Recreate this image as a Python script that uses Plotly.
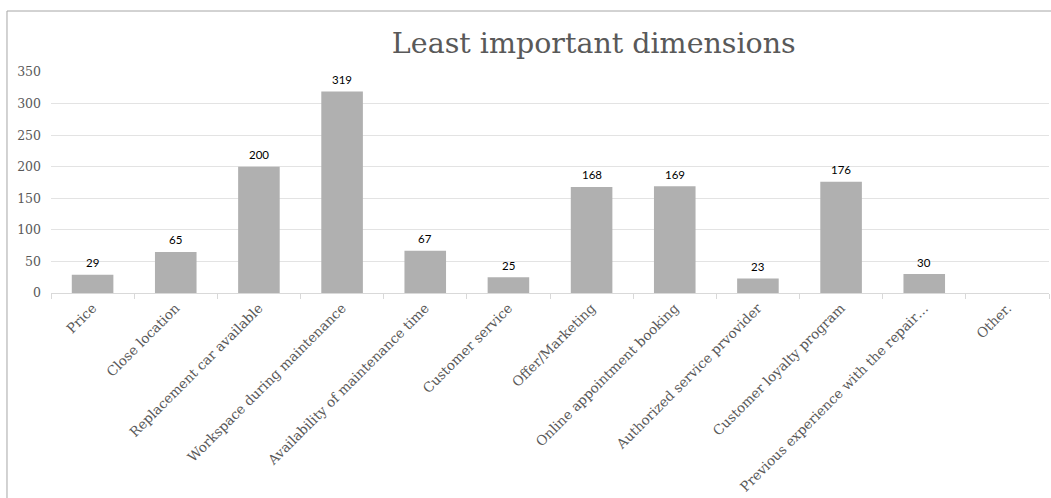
import plotly.graph_objects as go

categories = [
    "Price",
    "Close location",
    "Replacement car available",
    "Workspace during maintenance",
    "Availability of maintenance time",
    "Customer service",
    "Offer/Marketing",
    "Online appointment booking",
    "Authorized service prvovider",
    "Customer loyalty program",
    "Previous experience with the repair\u2026",
    "Other.",
]
counts = [29, 65, 200, 319, 67, 25, 168, 169, 23, 176, 30, None]
y_ticks = [0, 50, 100, 150, 200, 250, 300, 350]

SERIF = "Georgia, 'DejaVu Serif', serif"
LABEL_GREY = "#595959"

fig = go.Figure(
    go.Bar(
        x=categories,
        y=counts,
        marker=dict(color="#b0b0b0", line=dict(width=0)),
        hoverinfo="x+y",
    )
)

# value labels above each bar
for cat, val in zip(categories, counts):
    if val is None:
        continue
    fig.add_annotation(
        x=cat, y=val, text=str(val), showarrow=False,
        yshift=12, font=dict(family="Lato, 'Liberation Sans', sans-serif", size=11.5, color="#000000"),
    )

# chart frame (left and top edges)
frame = dict(color="#a6a6a6", width=1)
fig.add_shape(type="line", xref="paper", yref="paper",
              x0=-0.0441, x1=-0.0441, y0=1.276, y1=-1.0, line=frame)
fig.add_shape(type="line", xref="paper", yref="paper",
              x0=-0.0441, x1=1.01, y0=1.276, y1=1.276, line=frame)

fig.update_layout(
    width=1051,
    height=498,
    margin=dict(l=51, r=2, t=72, b=205),
    paper_bgcolor="white",
    plot_bgcolor="white",
    bargap=0.5,
    showlegend=False,
    title=dict(
        text="Least important dimensions",
        x=0.565, xanchor="center",
        y=0.914, yanchor="middle",
        font=dict(family=SERIF, size=28.5, color=LABEL_GREY),
    ),
    xaxis=dict(
        type="category",
        automargin=False,
        tickangle=-45,
        tickson="boundaries",
        ticks="outside",
        ticklen=5,
        tickcolor="#d9d9d9",
        showline=True,
        linecolor="#d9d9d9",
        linewidth=1,
        showgrid=False,
        ticklabelstandoff=1,
        tickfont=dict(family=SERIF, size=13.5, color=LABEL_GREY),
    ),
    yaxis=dict(
        range=[0, 350],
        automargin=False,
        tickvals=y_ticks,
        showgrid=True,
        gridcolor="#e3e3e3",
        gridwidth=1,
        zeroline=False,
        showline=False,
        ticks="",
        ticklen=0,
        ticklabelstandoff=9,
        tickfont=dict(family=SERIF, size=12.5, color=LABEL_GREY),
    ),
)

fig.write_html("out.html")
